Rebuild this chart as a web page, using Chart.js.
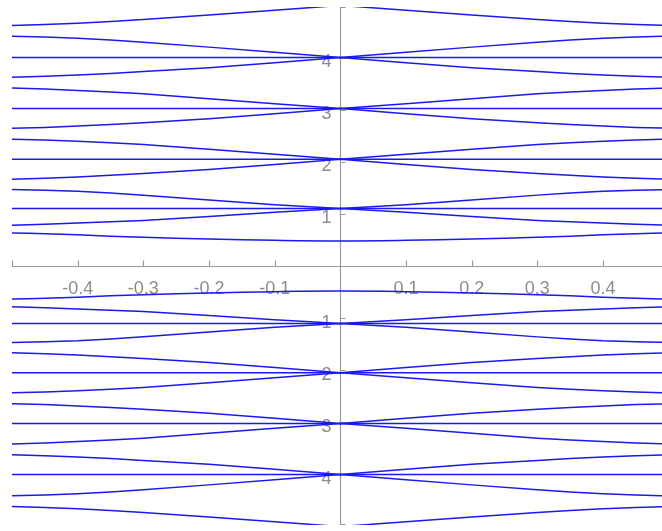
<!DOCTYPE html>
<html>
<head>
<meta charset="utf-8">
<script src="https://cdn.jsdelivr.net/npm/chart.js@4/dist/chart.umd.min.js"></script>
<style>
  html, body { margin: 0; padding: 0; background: #fff; overflow: hidden; }
  canvas { display: block; }
</style>
</head>
<body>
<canvas id="bands" width="662" height="531"></canvas>
<script>
// wave numbers where each band is sampled
const kPoints = [-0.5, -0.45, -0.4, -0.35, -0.3, -0.2, -0.1, 0, 0.1, 0.2, 0.3, 0.35, 0.4, 0.45, 0.5];

// upper branch energies, one array per band
const lowBand = [0.635, 0.62, 0.598, 0.572, 0.552, 0.516, 0.493, 0.482, 0.493, 0.516, 0.552, 0.572, 0.598, 0.62, 0.635];
const below1 = [0.783, 0.80, 0.825, 0.85, 0.875, 0.952, 1.03, 1.104, 1.03, 0.952, 0.875, 0.85, 0.825, 0.80, 0.783];
const above1 = [1.468, 1.455, 1.435, 1.40, 1.36, 1.265, 1.175, 1.104, 1.175, 1.265, 1.36, 1.40, 1.435, 1.455, 1.468];
const below2 = [1.666, 1.685, 1.71, 1.74, 1.775, 1.85, 1.95, 2.05, 1.95, 1.85, 1.775, 1.74, 1.71, 1.685, 1.666];
const above2 = [2.434, 2.42, 2.395, 2.365, 2.33, 2.24, 2.145, 2.05, 2.145, 2.24, 2.33, 2.365, 2.395, 2.42, 2.434];
const below3 = [2.645, 2.66, 2.685, 2.715, 2.75, 2.825, 2.92, 3.02, 2.92, 2.825, 2.75, 2.715, 2.685, 2.66, 2.645];
const above3 = [3.415, 3.395, 3.37, 3.34, 3.305, 3.21, 3.115, 3.02, 3.115, 3.21, 3.305, 3.34, 3.37, 3.395, 3.415];
const below4 = [3.624, 3.64, 3.665, 3.695, 3.73, 3.805, 3.9, 4.0, 3.9, 3.805, 3.73, 3.695, 3.665, 3.64, 3.624];
const above4 = [4.41, 4.395, 4.37, 4.335, 4.295, 4.2, 4.1, 4.0, 4.1, 4.2, 4.295, 4.335, 4.37, 4.395, 4.41];
const below5 = [4.616, 4.632, 4.657, 4.69, 4.728, 4.818, 4.908, 5.0, 4.908, 4.818, 4.728, 4.69, 4.657, 4.632, 4.616];

// flat levels that run across the whole zone
const flatLevels = [1.104, 2.05, 3.02, 4.0];

// axis ticks
const xTicks = [-0.4, -0.3, -0.2, -0.1, 0.1, 0.2, 0.3, 0.4];
const xTickLabels = ['-0.4', '-0.3', '-0.2', '-0.1', '0.1', '0.2', '0.3', '0.4'];
const yTicks = [1, 2, 3, 4];
const yTickLabels = ['1', '2', '3', '4'];

const lineColor = 'rgb(25,25,240)';
const axisColor = '#9a9a9a';
const labelColor = '#8c8c8c';

const curves = [lowBand, below1, above1, below2, above2, below3, above3, below4, above4, below5];
const datasets = [];

// each band appears at +E and -E
[1, -1].forEach(sign => {
  curves.forEach((vals, i) => {
    datasets.push({
      data: kPoints.map((k, j) => ({ x: k, y: sign * vals[j] })),
      borderColor: lineColor,
      borderWidth: 1.5,
      pointRadius: 0,
      tension: i === 0 ? 0.4 : 0,
      clip: 0,
      fill: false
    });
  });
  flatLevels.forEach(level => {
    datasets.push({
      data: [{ x: -0.5, y: sign * level }, { x: 0.5, y: sign * level }],
      borderColor: lineColor,
      borderWidth: 1.5,
      pointRadius: 0,
      tension: 0,
      clip: 0,
      fill: false
    });
  });
});

// axes crossing at the origin, drawn underneath the bands
const centerAxes = {
  id: 'centerAxes',
  beforeDatasetsDraw(chart) {
    const { ctx, chartArea, scales } = chart;
    const x0 = Math.round(scales.x.getPixelForValue(0)) + 0.5;
    const y0 = Math.round(scales.y.getPixelForValue(0)) + 0.5;
    ctx.save();
    ctx.strokeStyle = axisColor;
    ctx.lineWidth = 1.2;

    ctx.beginPath();
    ctx.moveTo(chartArea.left, y0);
    ctx.lineTo(chartArea.right, y0);
    ctx.moveTo(x0, chartArea.top);
    ctx.lineTo(x0, chartArea.bottom);

    // x ticks point upward
    [-0.5].concat(xTicks).forEach(v => {
      const px = Math.round(scales.x.getPixelForValue(v)) + 0.5;
      ctx.moveTo(px, y0);
      ctx.lineTo(px, y0 - 6);
    });
    // y ticks point right, mirrored below the origin
    yTicks.forEach(v => {
      [v, -v].forEach(val => {
        const py = Math.round(scales.y.getPixelForValue(val)) + 0.5;
        ctx.moveTo(x0, py);
        ctx.lineTo(x0 + 5, py);
      });
    });
    ctx.moveTo(x0, chartArea.top + 0.5);
    ctx.lineTo(x0 + 5, chartArea.top + 0.5);
    ctx.moveTo(x0, chartArea.bottom - 0.5);
    ctx.lineTo(x0 + 5, chartArea.bottom - 0.5);
    ctx.stroke();

    ctx.fillStyle = labelColor;
    ctx.font = '18px "Liberation Sans", Arial, sans-serif';
    ctx.textAlign = 'center';
    ctx.textBaseline = 'middle';
    xTicks.forEach((v, i) => {
      ctx.fillText(xTickLabels[i], scales.x.getPixelForValue(v), y0 + 23);
    });
    ctx.textAlign = 'right';
    yTicks.forEach((v, i) => {
      ctx.fillText(yTickLabels[i], x0 - 9, scales.y.getPixelForValue(v) + 4);
      ctx.fillText(yTickLabels[i], x0 - 9, scales.y.getPixelForValue(-v) + 5);
    });
    ctx.restore();
  }
};

new Chart(document.getElementById('bands').getContext('2d'), {
  type: 'line',
  data: { datasets },
  options: {
    responsive: false,
    animation: false,
    devicePixelRatio: 1,
    layout: { padding: { left: 12, right: 0, top: 7, bottom: 6 } },
    plugins: { legend: { display: false }, tooltip: { enabled: false } },
    scales: {
      x: { type: 'linear', min: -0.5, max: 0.4898, display: false },
      y: { type: 'linear', min: -4.97, max: 4.97, display: false }
    }
  },
  plugins: [centerAxes]
});
</script>
</body>
</html>
